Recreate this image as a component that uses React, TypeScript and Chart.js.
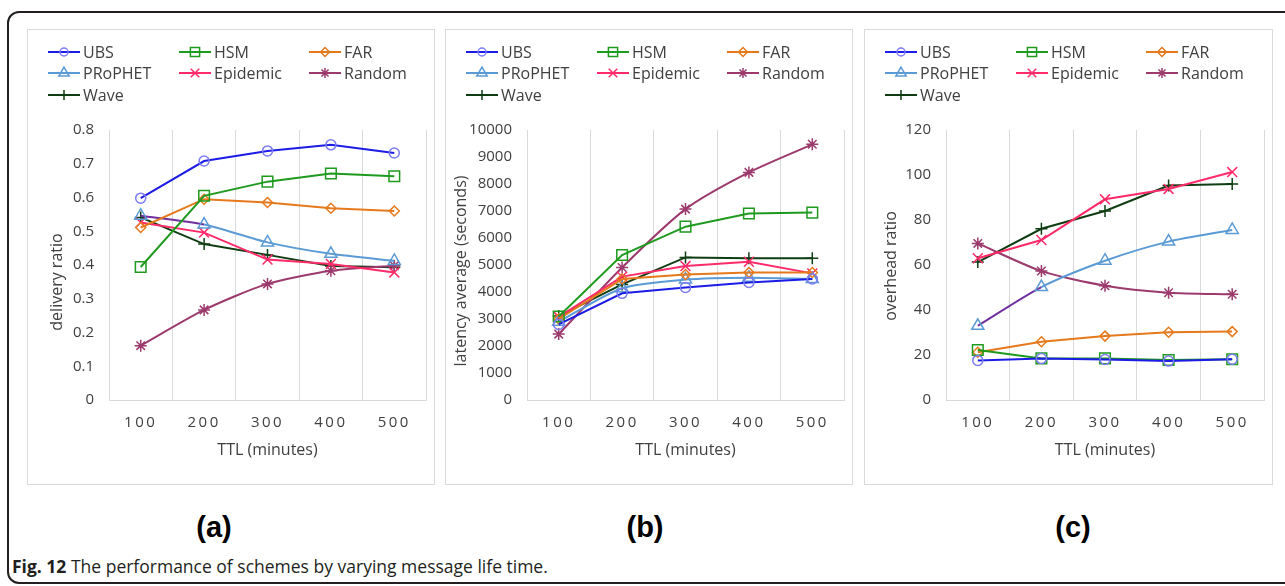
import React, { useEffect, useRef } from "react";
import { Chart, registerables } from "chart.js";
import { drawPoint } from "chart.js/helpers";

Chart.register(...registerables);

// ---------- data ----------
const ttlLabels = ["100", "200", "300", "400", "500"];
const schemeNames = ["UBS", "HSM", "FAR", "PRoPHET", "Epidemic", "Random", "Wave"];

// (a) delivery ratio
const deliveryUBS = [0.598, 0.708, 0.738, 0.756, 0.732];
const deliveryHSM = [0.394, 0.605, 0.647, 0.671, 0.663];
const deliveryFAR = [0.511, 0.595, 0.585, 0.568, 0.56];
const deliveryPRoPHET = [0.546, 0.52, 0.467, 0.433, 0.412];
const deliveryEpidemic = [0.526, 0.496, 0.416, 0.403, 0.378];
const deliveryRandom = [0.161, 0.267, 0.344, 0.383, 0.398];
const deliveryWave = [0.541, 0.462, 0.43, 0.397, 0.393];

// (b) latency average (seconds)
const latencyUBS = [2800, 3950, 4170, 4350, 4480];
const latencyHSM = [3090, 5370, 6420, 6910, 6940];
const latencyFAR = [3000, 4480, 4650, 4720, 4720];
const latencyPRoPHET = [2900, 4140, 4460, 4530, 4480];
const latencyEpidemic = [3080, 4570, 4960, 5120, 4690];
const latencyRandom = [2440, 4910, 7070, 8430, 9470];
const latencyWave = [3110, 4280, 5280, 5250, 5250];

// (c) overhead ratio
const overheadUBS = [17.6, 18.4, 18.0, 17.3, 18.1];
const overheadHSM = [22.2, 18.5, 18.5, 17.8, 18.1];
const overheadFAR = [21.2, 25.9, 28.4, 30.1, 30.4];
const overheadPRoPHET = [33.0, 50.2, 61.9, 70.4, 75.6];
const overheadEpidemic = [63.0, 71.1, 89.2, 93.8, 101.3];
const overheadRandom = [69.6, 57.3, 50.8, 47.7, 47.0];
const overheadWave = [61.3, 76.1, 84.0, 95.3, 96.0];

// ---------- styles ----------
const STYLES = [
  { line: "#1c1ce6", point: "#7b7bf2", style: "circle", r: 5, lr: 4, tension: 0 },
  { line: "#1e9a1e", point: "#1e9a1e", style: "rect", r: 7.5, lr: 6.5, tension: 0 },
  { line: "#e5791c", point: "#e5791c", style: "rectRot", r: 5, lr: 4.5, tension: 0 },
  { line: "#5b9bd5", point: "#5b9bd5", style: "triangle", r: 7, lr: 6, tension: 0.25 },
  { line: "#ff2a6a", point: "#ff2a6a", style: "crossRot", r: 7, lr: 6, tension: 0 },
  { line: "#9c3a6e", point: "#9c3a6e", style: "star", r: 6, lr: 5, tension: 0.25 },
  { line: "#0f3d12", point: "#0f3d12", style: "cross", r: 6, lr: 5, tension: 0 },
];
const PURPLE = "#7030a0";
const TEXT = "#404040";
const GRID = "#d9d9d9";
const FONT = "'Open Sans', 'Noto Sans', sans-serif";

const legendPlugin = {
  id: "gridLegend",
  afterDraw(chart: any) {
    const ctx = chart.ctx;
    const cols = [21, 152, 282];
    const rows = [23, 44, 66];
    chart.data.datasets.forEach((ds: any, i: number) => {
      const st = STYLES[i];
      const x = cols[i % 3];
      const y = rows[Math.floor(i / 3)];
      ctx.save();
      ctx.strokeStyle = st.line;
      ctx.lineWidth = 2;
      ctx.beginPath();
      ctx.moveTo(x, y);
      ctx.lineTo(x + 32, y);
      ctx.stroke();
      ctx.strokeStyle = st.point;
      ctx.fillStyle = "rgba(0,0,0,0)";
      ctx.lineWidth = 1.5;
      drawPoint(ctx, { pointStyle: st.style, radius: st.lr, rotation: 0, borderWidth: 1.5 } as any, x + 16, y);
      ctx.fillStyle = TEXT;
      ctx.font = `16px ${FONT}`;
      ctx.textBaseline = "middle";
      ctx.textAlign = "left";
      ctx.fillText(ds.label, x + 35, y + 1);
      ctx.restore();
    });
  },
};

const patchPlugin = {
  id: "scalePatches",
  beforeDraw(chart: any) {
    const s = chart.scales.x;
    if (s && !s.__patched) {
      const orig = s.drawLabels.bind(s);
      s.drawLabels = (area: any) => {
        const c = chart.ctx;
        c.save();
        (c as any).letterSpacing = "2.5px";
        orig(area);
        c.restore();
      };
      s.__patched = true;
    }
    const y = chart.scales.y;
    if (y && !y.__patched) {
      const shift = chart.options.plugins.scalePatches?.yTitleShift || 0;
      const origT = y.drawTitle.bind(y);
      y.drawTitle = () => {
        const c = chart.ctx;
        c.save();
        c.translate(0, shift);
        origT();
        c.restore();
      };
      y.__patched = true;
    }
  },
};

type PanelProps = {
  left: number;
  width: number;
  yTitle: string;
  yTitlePad: number;
  yTitleShift: number;
  yMax: number;
  yStep: number;
  series: number[][];
  purpleFirst: boolean;
};

function Panel({ left, width, yTitle, yTitlePad, yTitleShift, yMax, yStep, series, purpleFirst }: PanelProps) {
  const ref = useRef<HTMLCanvasElement>(null);
  useEffect(() => {
    if (!ref.current) return;
    const datasets = series.map((vals, i) => {
      const st = STYLES[i];
      const ds: any = {
        label: schemeNames[i],
        data: vals,
        borderColor: st.line,
        borderWidth: 2,
        backgroundColor: "rgba(0,0,0,0)",
        pointStyle: st.style,
        pointRadius: st.r,
        pointBorderColor: st.point,
        pointBackgroundColor: "rgba(0,0,0,0)",
        pointBorderWidth: 1.5,
        tension: st.tension,
        fill: false,
      };
      if (i === 3 && purpleFirst) {
        ds.segment = { borderColor: (c: any) => (c.p0DataIndex === 0 ? PURPLE : undefined) };
      }
      return ds;
    });
    const chart = new Chart(ref.current, {
      type: "line",
      data: { labels: ttlLabels, datasets },
      plugins: [legendPlugin, patchPlugin],
      options: {
        animation: false,
        responsive: false,
        maintainAspectRatio: false,
        devicePixelRatio: 1,
        layout: { padding: { top: 101, left: 0, right: width - 403, bottom: 15 } },
        plugins: {
          legend: { display: false },
          tooltip: { enabled: false },
          title: { display: false },
          scalePatches: { yTitleShift },
        },
        scales: {
          x: {
            type: "category",
            offset: true,
            grid: { display: true, offset: true, color: GRID, lineWidth: 1, drawTicks: false },
            border: { display: true, color: GRID, width: 1 },
            ticks: { padding: 14, color: TEXT, font: { family: FONT, size: 15 } },
            title: {
              display: true,
              text: "TTL (minutes)",
              color: TEXT,
              font: { family: FONT, size: 16 },
              padding: { top: 10, bottom: 10 },
            },
            afterFit: (s: any) => {
              s.height = 70;
            },
          },
          y: {
            min: 0,
            max: yMax,
            grid: { display: false, drawTicks: false },
            border: { display: false },
            ticks: {
              stepSize: yStep,
              padding: 15,
              color: TEXT,
              font: { family: FONT, size: 15 },
              callback: (v: any) => String(Math.round(Number(v) * 100) / 100),
            },
            title: {
              display: true,
              text: yTitle,
              color: TEXT,
              font: { family: FONT, size: 16 },
              padding: { top: yTitlePad, bottom: yTitlePad },
            },
            afterFit: (s: any) => {
              s.width = 82;
            },
          },
        },
      } as any,
    });
    return () => chart.destroy();
  }, []);
  return (
    <>
      <div
        style={{
          position: "absolute",
          left,
          top: 29,
          width,
          height: 456,
          boxSizing: "border-box",
          border: `1px solid ${GRID}`,
          background: "#fff",
        }}
      />
      <canvas
        ref={ref}
        width={width}
        height={456}
        style={{ position: "absolute", left, top: 29, width, height: 456 }}
      />
    </>
  );
}

const subLabel = (text: string, cx: number) => (
  <div
    style={{
      position: "absolute",
      left: cx - 40,
      width: 80,
      top: 510,
      textAlign: "center",
      font: "bold 29px 'Liberation Sans', Arial, sans-serif",
      color: "#000",
      lineHeight: "34px",
    }}
  >
    {text}
  </div>
);

export default function App() {
  return (
    <div
      style={{
        position: "absolute",
        left: 0,
        top: 0,
        width: 1285,
        height: 586,
        background: "#fff",
        overflow: "hidden",
      }}
    >
      <div
        style={{
          position: "absolute",
          left: 7,
          top: 11,
          width: 1400,
          height: 573,
          boxSizing: "border-box",
          border: "2px solid #231f20",
          borderRadius: 12,
        }}
      />
      <Panel
        left={27}
        width={408}
        yTitle="delivery ratio"
        yTitlePad={21}
        yTitleShift={17}
        yMax={0.8}
        yStep={0.1}
        purpleFirst={true}
        series={[deliveryUBS, deliveryHSM, deliveryFAR, deliveryPRoPHET, deliveryEpidemic, deliveryRandom, deliveryWave]}
      />
      <Panel
        left={445}
        width={408}
        yTitle="latency average (seconds)"
        yTitlePad={7}
        yTitleShift={6}
        yMax={10000}
        yStep={1000}
        purpleFirst={false}
        series={[latencyUBS, latencyHSM, latencyFAR, latencyPRoPHET, latencyEpidemic, latencyRandom, latencyWave]}
      />
      <Panel
        left={864}
        width={409}
        yTitle="overhead ratio"
        yTitlePad={18}
        yTitleShift={1}
        yMax={120}
        yStep={20}
        purpleFirst={true}
        series={[overheadUBS, overheadHSM, overheadFAR, overheadPRoPHET, overheadEpidemic, overheadRandom, overheadWave]}
      />
      {subLabel("(a)", 214)}
      {subLabel("(b)", 645)}
      {subLabel("(c)", 1073)}
      <div
        style={{
          position: "absolute",
          left: 12,
          top: 554,
          font: `17.5px ${FONT}`,
          color: "#231f20",
          whiteSpace: "nowrap",
          lineHeight: "24px",
        }}
      >
        <b>Fig. 12</b> The performance of schemes by varying message life time.
      </div>
    </div>
  );
}
